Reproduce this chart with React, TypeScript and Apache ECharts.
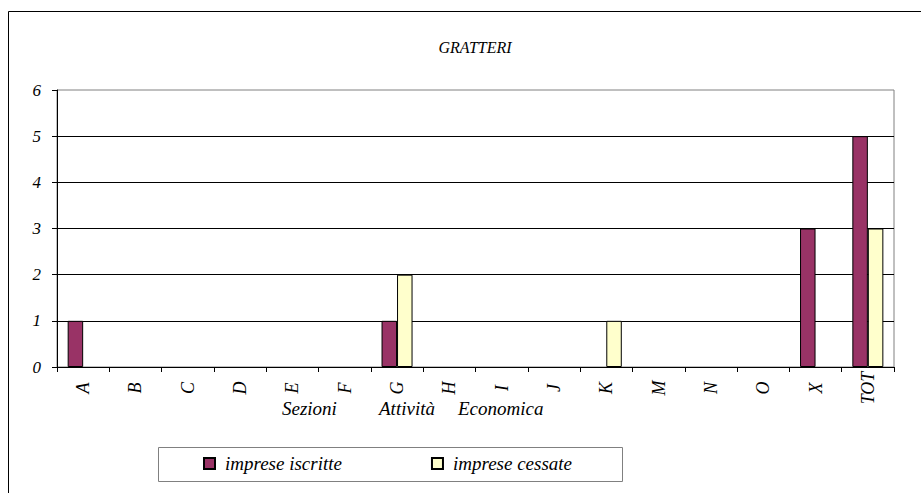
import React, { useEffect, useRef } from "react";
import * as echarts from "echarts";

const categories = ["A", "B", "C", "D", "E", "F", "G", "H", "I", "J", "K", "M", "N", "O", "X", "TOT"];
const iscritte = [1, 0, 0, 0, 0, 0, 1, 0, 0, 0, 0, 0, 0, 0, 3, 5];
const cessate = [0, 0, 0, 0, 0, 0, 2, 0, 0, 0, 1, 0, 0, 0, 0, 3];
const yTicks = { min: 0, max: 6, interval: 1 };
const axisTitleWords = ["Sezioni", "Attività", "Economica"];

const FONT = "Times New Roman, Liberation Serif, DejaVu Serif, serif";

const hideZero = (arr: number[]) => arr.map((v) => (v === 0 ? "-" : v));

export default function App() {
  const ref = useRef<HTMLDivElement>(null);
  useEffect(() => {
    const chart = echarts.init(ref.current!, null, { renderer: "svg" });
    const wordX = [282, 379, 458];
    chart.setOption({
      animation: false,
      backgroundColor: "#ffffff",
      textStyle: { fontFamily: FONT },
      title: {
        text: "GRATTERI",
        left: 475,
        top: 39,
        textAlign: "center",
        padding: 0,
        textStyle: { fontFamily: FONT, fontStyle: "italic", fontWeight: "normal", fontSize: 16, color: "#000" },
      },
      grid: {
        left: 57,
        top: 90,
        width: 837,
        height: 277,
        show: true,
        borderColor: "#808080",
        borderWidth: 1,
        containLabel: false,
      },
      xAxis: {
        type: "category",
        data: categories,
        axisLine: { lineStyle: { color: "#000", width: 1 } },
        axisTick: { show: true, length: 5, lineStyle: { color: "#000" } },
        axisLabel: {
          rotate: 90,
          margin: 21,
          align: "center",
          verticalAlign: "middle",
          fontFamily: FONT,
          fontStyle: "italic",
          fontSize: 18,
          color: "#000",
          interval: 0,
        },
      },
      yAxis: {
        type: "value",
        min: yTicks.min,
        max: yTicks.max,
        interval: yTicks.interval,
        axisLine: { show: true, lineStyle: { color: "#000", width: 1 } },
        axisTick: { show: true, length: 5, lineStyle: { color: "#000" } },
        splitLine: { show: true, showMaxLine: false, lineStyle: { color: "#000", width: 1 } },
        axisLabel: {
          margin: 16,
          fontFamily: FONT,
          fontStyle: "italic",
          fontSize: 17,
          color: "#000",
        },
      },
      legend: {
        left: 203,
        top: 454,
        padding: 0,
        itemWidth: 11,
        itemHeight: 11,
        itemGap: 89,
        icon: "rect",
        textStyle: { fontFamily: FONT, fontStyle: "italic", fontSize: 19, color: "#000", padding: [0, 0, 0, 5] },
        data: ["imprese iscritte", "imprese cessate"],
      },
      series: [
        {
          name: "imprese iscritte",
          type: "bar",
          data: hideZero(iscritte),
          barWidth: 15.5,
          barGap: "0%",
          itemStyle: { color: "#993366", borderColor: "#000", borderWidth: 1 },
        },
        {
          name: "imprese cessate",
          type: "bar",
          data: hideZero(cessate),
          barWidth: 15.5,
          barGap: "0%",
          itemStyle: { color: "#FFFFCC", borderColor: "#000", borderWidth: 1 },
        },
      ],
      graphic: [
        {
          type: "rect",
          shape: { x: 8.5, y: 11.5, width: 930, height: 500 },
          style: { fill: "none", stroke: "#000", lineWidth: 1 },
          silent: true,
        },
        {
          type: "rect",
          shape: { x: 158.5, y: 447.5, width: 464, height: 34 },
          style: { fill: "none", stroke: "#808080", lineWidth: 1 },
          silent: true,
        },
        ...axisTitleWords.map((w, i) => ({
          type: "text",
          left: wordX[i],
          top: 399,
          style: {
            text: w,
            fontFamily: FONT,
            fontStyle: "italic",
            fontSize: 19,
            fill: "#000",
          },
        })),
      ],
    });
    return () => chart.dispose();
  }, []);
  return (
    <div
      ref={ref}
      style={{ position: "fixed", left: 0, top: 0, width: 921, height: 493 }}
    />
  );
}
